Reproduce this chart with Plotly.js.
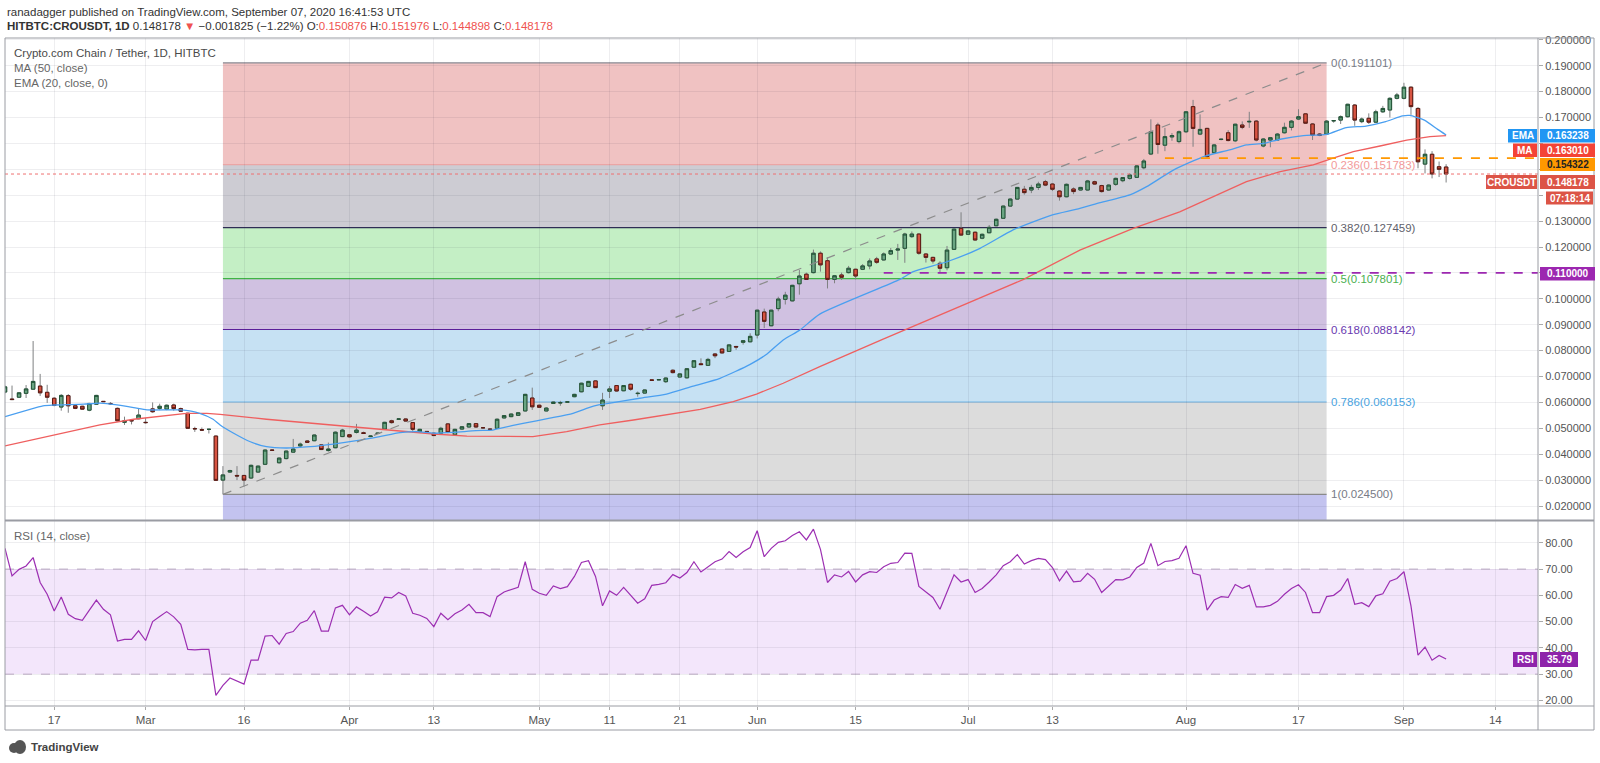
<!DOCTYPE html>
<html><head><meta charset="utf-8">
<script src="https://cdn.plot.ly/plotly-3.0.1.min.js"></script>
<style>html,body{margin:0;padding:0;background:#fff;}#chart{width:1600px;height:763px;}</style>
</head><body><div id="chart"></div>
<script>
// ---------- data ----------
const openP = [0.0640,0.0613,0.0620,0.0635,0.0651,0.0663,0.0639,0.0616,0.0582,0.0626,
0.0587,0.0585,0.0570,0.0593,0.0604,0.0596,0.0577,0.0523,0.0530,0.0537,
0.0523,0.0575,0.0577,0.0574,0.0590,0.0576,0.0558,0.0499,0.0495,0.0496,
0.0470,0.0300,0.0331,0.0318,0.0318,0.0308,0.0331,0.0361,0.0416,0.0367,
0.0383,0.0408,0.0432,0.0451,0.0452,0.0436,0.0414,0.0425,0.0468,0.0475,
0.0484,0.0483,0.0468,0.0480,0.0497,0.0529,0.0535,0.0536,0.0522,0.0487,
0.0488,0.0481,0.0481,0.0517,0.0475,0.0497,0.0505,0.0518,0.0502,0.0497,
0.0500,0.0540,0.0545,0.0550,0.0567,0.0617,0.0589,0.0567,0.0596,0.0598,
0.0601,0.0622,0.0641,0.0662,0.0683,0.0587,0.0643,0.0665,0.0645,0.0670,
0.0634,0.0636,0.0687,0.0687,0.0680,0.0724,0.0698,0.0695,0.0736,0.0749,
0.0743,0.0787,0.0806,0.0797,0.0816,0.0832,0.0834,0.0860,0.0949,0.0896,
0.0962,0.0998,0.0992,0.1058,0.1095,0.1101,0.1176,0.1147,0.1075,0.1092,
0.1101,0.1114,0.1114,0.1127,0.1154,0.1150,0.1173,0.1188,0.1195,0.1240,
0.1250,0.1173,0.1160,0.1137,0.1120,0.1191,0.1272,0.1249,0.1257,0.1234,
0.1255,0.1282,0.1311,0.1358,0.1385,0.1423,0.1420,0.1430,0.1452,0.1443,
0.1416,0.1394,0.1424,0.1420,0.1420,0.1452,0.1437,0.1420,0.1442,0.1456,
0.1465,0.1469,0.1506,0.1559,0.1671,0.1593,0.1625,0.1607,0.1645,0.1742,
0.1636,0.1658,0.1564,0.1615,0.1641,0.1610,0.1671,0.1683,0.1686,0.1590,
0.1613,0.1613,0.1641,0.1662,0.1694,0.1714,0.1675,0.1636,0.1636,0.1687,
0.1690,0.1703,0.1748,0.1684,0.1697,0.1682,0.1722,0.1729,0.1774,0.1774,
0.1817,0.1735,0.1520,0.1558,0.1510,0.150876];
const highP = [0.0665,0.0665,0.0640,0.0667,0.0837,0.0710,0.0668,0.0620,0.0632,0.0632,
0.0592,0.0587,0.0598,0.0629,0.0605,0.0601,0.0580,0.0545,0.0532,0.0578,
0.0540,0.0600,0.0595,0.0592,0.0595,0.0580,0.0560,0.0506,0.0503,0.0497,
0.0472,0.0354,0.0340,0.0354,0.0320,0.0360,0.0356,0.0418,0.0418,0.0387,
0.0414,0.0459,0.0445,0.0454,0.0476,0.0438,0.0445,0.0488,0.0498,0.0478,
0.0517,0.0487,0.0472,0.0483,0.0525,0.0533,0.0537,0.0538,0.0524,0.0498,
0.0489,0.0483,0.0506,0.0520,0.0498,0.0508,0.0520,0.0520,0.0503,0.0498,
0.0538,0.0551,0.0557,0.0563,0.0633,0.0657,0.0592,0.0582,0.0603,0.0606,
0.0603,0.0633,0.0676,0.0683,0.0685,0.0637,0.0663,0.0667,0.0667,0.0672,
0.0642,0.0650,0.0688,0.0690,0.0697,0.0728,0.0712,0.0732,0.0763,0.0770,
0.0772,0.0790,0.0808,0.0824,0.0818,0.0840,0.0867,0.0958,0.0962,0.0958,
0.1008,0.1027,0.1054,0.1111,0.1101,0.1190,0.1183,0.1160,0.1092,0.1101,
0.1127,0.1116,0.1134,0.1156,0.1162,0.1179,0.1196,0.1212,0.1255,0.1260,
0.1253,0.1176,0.1162,0.1145,0.1204,0.1271,0.1334,0.1265,0.1260,0.1252,
0.1285,0.1310,0.1360,0.1388,0.1432,0.1436,0.1440,0.1452,0.1459,0.1446,
0.1419,0.1445,0.1430,0.1432,0.1459,0.1456,0.1440,0.1442,0.1468,0.1470,
0.1485,0.1516,0.1540,0.1693,0.1680,0.1660,0.1640,0.1650,0.1725,0.1768,
0.1712,0.1660,0.1598,0.1618,0.1651,0.1676,0.1685,0.1722,0.1690,0.1620,
0.1625,0.1640,0.1680,0.1690,0.1732,0.1716,0.1678,0.1640,0.1690,0.1690,
0.1708,0.1753,0.1752,0.1700,0.1716,0.1730,0.1745,0.1778,0.1795,0.1834,
0.1820,0.1740,0.1577,0.1570,0.1530,0.151976];
const lowP = [0.0635,0.0609,0.0618,0.0617,0.0650,0.0625,0.0598,0.0585,0.0568,0.0560,
0.0574,0.0572,0.0566,0.0591,0.0602,0.0590,0.0527,0.0513,0.0515,0.0535,
0.0518,0.0560,0.0570,0.0570,0.0568,0.0563,0.0498,0.0486,0.0490,0.0480,
0.0298,0.0245,0.0328,0.0300,0.0275,0.0305,0.0328,0.0358,0.0413,0.0364,
0.0380,0.0405,0.0425,0.0444,0.0450,0.0416,0.0410,0.0423,0.0466,0.0464,
0.0480,0.0478,0.0466,0.0479,0.0495,0.0518,0.0534,0.0526,0.0483,0.0485,
0.0486,0.0470,0.0478,0.0481,0.0472,0.0495,0.0503,0.0503,0.0501,0.0495,
0.0498,0.0538,0.0543,0.0548,0.0565,0.0571,0.0579,0.0565,0.0594,0.0587,
0.0600,0.0620,0.0639,0.0660,0.0655,0.0571,0.0617,0.0642,0.0643,0.0645,
0.0622,0.0634,0.0684,0.0686,0.0675,0.0712,0.0696,0.0692,0.0734,0.0744,
0.0741,0.0771,0.0789,0.0795,0.0803,0.0823,0.0832,0.0847,0.0887,0.0894,
0.0952,0.0978,0.0990,0.1016,0.1074,0.1098,0.1105,0.1040,0.1060,0.1073,
0.1098,0.1075,0.1111,0.1114,0.1135,0.1148,0.1169,0.1150,0.1139,0.1235,
0.1170,0.1140,0.1136,0.1099,0.1110,0.1189,0.1244,0.1246,0.1225,0.1230,
0.1253,0.1280,0.1309,0.1356,0.1383,0.1402,0.1408,0.1420,0.1435,0.1416,
0.1379,0.1392,0.1404,0.1418,0.1418,0.1440,0.1410,0.1417,0.1436,0.1450,
0.1460,0.1467,0.1500,0.1555,0.1560,0.1570,0.1610,0.1600,0.1640,0.1587,
0.1632,0.1542,0.1560,0.1612,0.1608,0.1605,0.1655,0.1660,0.1608,0.1585,
0.1585,0.1610,0.1638,0.1650,0.1690,0.1675,0.1613,0.1628,0.1632,0.1680,
0.1675,0.1700,0.1668,0.1678,0.1675,0.1680,0.1718,0.1700,0.1770,0.1770,
0.1710,0.1504,0.1484,0.1465,0.1470,0.144898];
const closeP = [0.0660,0.0611,0.0637,0.0652,0.0681,0.0637,0.0620,0.0588,0.0627,0.0587,
0.0577,0.0574,0.0596,0.0627,0.0603,0.0595,0.0529,0.0529,0.0529,0.0551,
0.0522,0.0564,0.0585,0.0589,0.0576,0.0566,0.0500,0.0498,0.0493,0.0496,
0.0299,0.0320,0.0337,0.0316,0.0300,0.0357,0.0354,0.0416,0.0415,0.0385,
0.0412,0.0420,0.0439,0.0446,0.0474,0.0418,0.0420,0.0485,0.0493,0.0467,
0.0493,0.0480,0.0470,0.0481,0.0523,0.0522,0.0536,0.0528,0.0496,0.0496,
0.0487,0.0472,0.0500,0.0484,0.0496,0.0506,0.0518,0.0505,0.0502,0.0496,
0.0535,0.0549,0.0555,0.0560,0.0631,0.0583,0.0581,0.0578,0.0601,0.0599,
0.0602,0.0631,0.0674,0.0681,0.0657,0.0609,0.0652,0.0644,0.0665,0.0651,
0.0635,0.0648,0.0685,0.0688,0.0694,0.0715,0.0710,0.0730,0.0761,0.0746,
0.0766,0.0780,0.0791,0.0822,0.0814,0.0838,0.0855,0.0956,0.0913,0.0956,
0.0999,0.1014,0.1052,0.1088,0.1075,0.1176,0.1131,0.1075,0.1089,0.1083,
0.1118,0.1088,0.1127,0.1146,0.1141,0.1173,0.1186,0.1192,0.1250,0.1250,
0.1176,0.1160,0.1146,0.1118,0.1188,0.1269,0.1246,0.1262,0.1227,0.1249,
0.1276,0.1307,0.1358,0.1385,0.1430,0.1410,0.1430,0.1443,0.1439,0.1423,
0.1394,0.1442,0.1414,0.1430,0.1455,0.1443,0.1414,0.1439,0.1465,0.1468,
0.1478,0.1513,0.1532,0.1645,0.1596,0.1626,0.1630,0.1645,0.1722,0.1658,
0.1654,0.1549,0.1594,0.1616,0.1611,0.1674,0.1662,0.1685,0.1613,0.1617,
0.1622,0.1636,0.1662,0.1686,0.1703,0.1678,0.1632,0.1631,0.1686,0.1688,
0.1703,0.1751,0.1690,0.1694,0.1682,0.1722,0.1735,0.1774,0.1787,0.1817,
0.1742,0.1529,0.1558,0.1482,0.1500,0.148178];
const rsiVals = [77.9,67.4,69.9,71.2,74.4,64.9,60.4,54.0,59.4,52.8,
51.1,50.5,54.4,58.2,54.7,52.6,42.6,43.2,43.2,46.5,
42.8,50.0,51.9,53.8,51.8,49.0,39.4,39.2,39.4,39.4,
21.9,25.7,28.5,27.4,26.2,35.3,35.3,44.5,44.7,41.4,
45.5,46.2,49.4,50.5,54.2,46.4,46.4,55.2,56.2,52.6,
55.6,53.9,52.1,53.7,59.3,59.0,61.1,59.8,53.2,52.4,
51.2,48.1,53.2,50.7,53.0,54.4,56.6,53.4,53.4,51.9,
59.5,61.3,62.3,63.1,72.8,62.3,60.8,60.0,63.6,62.6,
63.3,67.2,72.5,73.2,67.2,56.0,61.7,60.0,63.0,60.0,
57.0,58.7,63.8,64.2,64.8,67.9,66.6,68.7,72.8,68.9,
71.0,72.8,73.8,76.7,74.4,76.6,78.2,84.6,74.7,77.9,
80.2,80.8,82.8,84.2,81.1,85.2,77.5,64.9,67.8,67.0,
69.1,65.1,67.8,69.0,68.7,70.9,72.2,72.5,76.1,76.0,
63.4,61.3,59.2,54.7,61.1,67.8,65.1,66.0,61.1,62.6,
65.1,67.8,71.3,72.8,75.5,71.9,73.2,74.1,73.6,70.6,
65.5,69.2,65.1,65.4,68.4,66.1,61.1,63.4,66.0,65.9,
67.0,70.6,72.3,79.8,71.3,72.9,73.2,74.1,78.9,68.4,
67.7,54.4,58.2,59.5,59.2,64.1,62.7,63.8,55.6,55.6,
56.2,57.7,60.4,62.6,64.0,61.1,53.4,53.4,59.5,60.0,
62.0,66.4,56.6,57.2,55.7,59.8,60.6,65.4,66.4,69.0,
56.0,37.2,40.3,35.3,37.1,35.79];
const maIdx  = [0,7,13.5,18.3,23,25.8,28.7,30.6,37.2,46.7,54.3,61,65.7,70.4,75.1,79.9,84.6,89.4,94.1,98.9,103.6,106.9,110.7,115.9,125,135,144.9,152.9,160.5,167.1,171.9,176.6,181.4,186.1,188.5,191.8,195.6,199.4,202.7,205];
const maVals = [0.0432,0.0473,0.0513,0.0535,0.0551,0.0558,0.0558,0.0554,0.0535,0.0513,0.0493,0.0478,0.0470,0.0468,0.0468,0.0487,0.0513,0.0532,0.0551,0.0573,0.0603,0.0632,0.0674,0.0738,0.0845,0.0960,0.1075,0.1188,0.1272,0.1336,0.1394,0.1452,0.1491,0.1517,0.1539,0.1568,0.1590,0.1613,0.1626,0.163010];
const emaIdx  = [0,5.4,7,11.2,13.5,15,18.3,20.2,25,27.7,29.6,30.6,32.4,34.9,37.2,40,43.4,46.7,50,53.3,56.2,58.6,61,63.8,67,69.4,70.4,73.7,77.5,80.8,83.7,86.5,90.3,94.1,97.9,101.7,106,108.4,110.7,113.1,115.9,127.3,129.2,134,138.7,143.4,147.2,149,152.9,155.8,160,162.4,166.2,170.7,174.2,176.6,179,181.4,184.7,188,190.8,193.6,196.4,198.8,199.8,201.9,203.8,205];
const emaVals = [0.0545,0.0587,0.0590,0.0593,0.0597,0.0593,0.0580,0.0571,0.0571,0.0558,0.0535,0.0513,0.0483,0.0448,0.0429,0.0424,0.0429,0.0439,0.0452,0.0468,0.0483,0.0487,0.0481,0.0484,0.0491,0.0493,0.0500,0.0519,0.0539,0.0558,0.0586,0.0599,0.0616,0.0632,0.0663,0.0693,0.0747,0.0787,0.0841,0.0880,0.0941,0.1075,0.1105,0.1143,0.1195,0.1266,0.1307,0.1324,0.1349,0.1371,0.1401,0.1433,0.1497,0.1551,0.1575,0.1594,0.1600,0.1616,0.1630,0.1635,0.1661,0.1667,0.1684,0.1706,0.1708,0.1690,0.1654,0.163238];
const tickIdx  = [7,20,34,49,61,76,86,96,107,121,137,149,168,184,199,212];
const tickText = ['17','Mar','16','Apr','13','May','11','21','Jun','15','Jul','13','Aug','17','Sep','14'];
const priceTicks = [0.02,0.03,0.04,0.05,0.06,0.07,0.08,0.09,0.10,0.11,0.12,0.13,0.14,0.15,0.16,0.17,0.18,0.19,0.20];
const priceTicksHidden = [0.11,0.14,0.15,0.16];   // covered by the price label boxes in the reference
const rsiTicks = [20,30,40,50,60,70,80];
const fibRatios = ['0','0.236','0.382','0.5','0.618','0.786','1'];
const fibPrices = [0.191101,0.151783,0.127459,0.107801,0.088142,0.060153,0.024500];
const fibStartIdx = 31, fibEndIdx = 188;
const supportPrice = 0.154322, supportStartIdx = 165;
const levelPrice = 0.110000, levelStartIdx = 125;
const lastClose = 0.148178, lastEma = 0.163238, lastMa = 0.163010, lastRsi = 35.79;

// ---------- geometry / style ----------
const L = 5, R = 1538, T = 38, B = 706;
const xp = px => (px - L) / (R - L);
const yp = py => (B - py) / (B - T);
const FONT = 'Liberation Sans, Arial, sans-serif';
const X_MAX = 218.07, Y_MIN = 0.014595, Y_MAX = 0.200695;
const idx = openP.map((_, i) => i);
const bodyHi = openP.map((o, i) => Math.max(o, closeP[i]));
const bodyLo = openP.map((o, i) => Math.min(o, closeP[i]));
const priceTickText = priceTicks.map(v => priceTicksHidden.some(h => Math.abs(h - v) < 1e-9) ? '' : v.toFixed(6));

const traces = [
  {type:'scatter', mode:'lines', x:maIdx, y:maVals, line:{color:'#ef5f5f', width:1.3}, hoverinfo:'skip', xaxis:'x', yaxis:'y'},
  {type:'scatter', mode:'lines', x:emaIdx, y:emaVals, line:{color:'#4a9ff0', width:1.3, shape:'spline', smoothing:0.6}, hoverinfo:'skip', xaxis:'x', yaxis:'y'},
  {type:'candlestick', x:idx, open:openP, high:highP, low:lowP, close:closeP, xaxis:'x', yaxis:'y',
   increasing:{line:{color:'#7f8082', width:1}, fillcolor:'#6ba583'},
   decreasing:{line:{color:'#7f8082', width:1}, fillcolor:'#d75442'}, whiskerwidth:0, hoverinfo:'skip'},
  {type:'candlestick', x:idx, open:openP, high:bodyHi, low:bodyLo, close:closeP, xaxis:'x', yaxis:'y',
   increasing:{line:{color:'#225437', width:1}, fillcolor:'#6ba583'},
   decreasing:{line:{color:'#5b1a13', width:1}, fillcolor:'#d75442'}, whiskerwidth:0, hoverinfo:'skip'},
  {type:'scatter', mode:'lines', x:idx, y:rsiVals, line:{color:'#9c2fb2', width:1.2}, hoverinfo:'skip', xaxis:'x', yaxis:'y2'}
];

const shapes = [];
const fibFill = ['#f0c2c2','#cdccd3','#c4efc5','#d0c1e1','#c6e1f3','#dcdcdc'];
const fibLine = ['#8a8d96','#eba5a5','#2f2d55','#3fb445','#5b1f99','#6fb3e3','#8a8a8a'];
const fibText = ['#787b86','#f29a9a','#5f5f6b','#4caf50','#6a3ab0','#4aa3e0','#787b86'];
for (let k = 0; k < fibFill.length; k++) {
  shapes.push({type:'rect', xref:'x', yref:'y', x0:fibStartIdx, x1:fibEndIdx, y0:fibPrices[k+1], y1:fibPrices[k], fillcolor:fibFill[k], line:{width:0}, layer:'below'});
}
shapes.push({type:'rect', xref:'x', yref:'y', x0:fibStartIdx, x1:fibEndIdx, y0:Y_MIN, y1:fibPrices[6], fillcolor:'#c3c3ef', line:{width:0}, layer:'below'});
for (let k = 0; k < fibPrices.length; k++) {
  shapes.push({type:'line', xref:'x', yref:'y', x0:fibStartIdx, x1:fibEndIdx, y0:fibPrices[k], y1:fibPrices[k], line:{color:fibLine[k], width:1.2}, layer:'below'});
}
// RSI band
shapes.push({type:'rect', xref:'x', yref:'y2', x0:0, x1:X_MAX, y0:30, y1:70, fillcolor:'#f3e6fb', line:{width:0}, layer:'below'});
[30,70].forEach(v => shapes.push({type:'line', xref:'x', yref:'y2', x0:0, x1:X_MAX, y0:v, y1:v, line:{color:'#bfaec8', width:1, dash:'dash'}, layer:'below'}));
// last price dotted
shapes.push({type:'line', xref:'x', yref:'y', x0:0, x1:X_MAX, y0:lastClose, y1:lastClose, line:{color:'#ef7070', width:1, dash:'dot'}, layer:'above'});
// trend line of fib
shapes.push({type:'line', xref:'x', yref:'y', x0:fibStartIdx, y0:fibPrices[6], x1:fibEndIdx, y1:fibPrices[0], line:{color:'#8c8c8c', width:1.2, dash:'dash'}, layer:'above'});
// horizontal dashed levels
shapes.push({type:'line', xref:'x', yref:'y', x0:supportStartIdx, x1:X_MAX, y0:supportPrice, y1:supportPrice, line:{color:'#ff9800', width:1.6, dash:'dash'}, layer:'above'});
shapes.push({type:'line', xref:'x', yref:'y', x0:levelStartIdx, x1:X_MAX, y0:levelPrice, y1:levelPrice, line:{color:'#9c27b0', width:1.6, dash:'dash'}, layer:'above'});
// frame
const frameCol = '#9a9ca3';
shapes.push({type:'rect', xref:'paper', yref:'paper', x0:xp(5), x1:xp(1594), y0:yp(730), y1:yp(38), line:{color:frameCol, width:1}, fillcolor:'rgba(0,0,0,0)', layer:'above'});
shapes.push({type:'line', xref:'paper', yref:'paper', x0:xp(1538), x1:xp(1538), y0:yp(730), y1:yp(38), line:{color:frameCol, width:1}, layer:'above'});
shapes.push({type:'line', xref:'paper', yref:'paper', x0:xp(5), x1:xp(1594), y0:yp(520.5), y1:yp(520.5), line:{color:frameCol, width:2}, layer:'above'});
shapes.push({type:'line', xref:'paper', yref:'paper', x0:xp(5), x1:xp(1594), y0:yp(706), y1:yp(706), line:{color:frameCol, width:1}, layer:'above'});

// right-side label boxes [text, x0, x1, y0, y1, bg, fg]
const boxes = [
  ['EMA', 1508, 1537, 129, 142.5, '#2196f3', '#fff'],
  [lastEma.toFixed(6), 1540, 1595, 129, 142.5, '#2196f3', '#fff'],
  ['MA', 1513, 1537, 143.5, 157, '#f44336', '#fff'],
  [lastMa.toFixed(6), 1540, 1595, 143.5, 157, '#f44336', '#fff'],
  [supportPrice.toFixed(6), 1540, 1595, 158, 171, '#ff9800', '#222'],
  ['CROUSDT', 1486, 1537, 175, 189, '#dc5446', '#fff'],
  [lastClose.toFixed(6), 1540, 1595, 175, 189, '#dc5446', '#fff'],
  ['07:18:14', 1546, 1593, 191.5, 204.5, '#dc5446', '#fff'],
  [levelPrice.toFixed(6), 1540, 1595, 267, 280.5, '#9c27b0', '#fff'],
  ['RSI', 1513, 1537, 652, 667, '#8e24aa', '#fff'],
  [lastRsi.toFixed(2), 1540, 1578, 652, 667, '#8e24aa', '#fff']
];
const annotations = [];
boxes.forEach(b => {
  shapes.push({type:'rect', xref:'paper', yref:'paper', x0:xp(b[1]), x1:xp(b[2]), y0:yp(b[4]), y1:yp(b[3]), fillcolor:b[5], line:{width:0}, layer:'above'});
  annotations.push({xref:'paper', yref:'paper', x:xp((b[1]+b[2])/2), y:yp((b[3]+b[4])/2), text:'<b>'+b[0]+'</b>', showarrow:false, xanchor:'center', yanchor:'middle', borderpad:0, font:{family:FONT, size:10, color:b[6]}});
});

// fib labels
for (let k = 0; k < fibPrices.length; k++) {
  annotations.push({xref:'x', yref:'y', x:fibEndIdx + 0.3, y:fibPrices[k], text:fibRatios[k] + '(' + fibPrices[k].toFixed(6) + ')', showarrow:false, xanchor:'left', yanchor:'middle', font:{family:FONT, size:11.5, color:fibText[k]}});
}
// header and legends
const txt = (px, py, text, size, color) => annotations.push({xref:'paper', yref:'paper', x:xp(px), y:yp(py), text, showarrow:false, xanchor:'left', yanchor:'middle', font:{family:FONT, size, color}});
txt(5, 11.7, 'ranadagger published on TradingView.com, September 07, 2020 16:41:53 UTC', 11.5, '#333');
const red = s => '<span style="color:#ef5350">' + s + '</span>';
txt(5, 26, '<b>HITBTC:CROUSDT, 1D</b> 0.148178 ' + red('▼') + ' −0.001825 (−1.22%) O:' + red('0.150876') + ' H:' + red('0.151976') + ' L:' + red('0.144898') + ' C:' + red('0.148178'), 11.5, '#333');
txt(12, 53, 'Crypto.com Chain / Tether, 1D, HITBTC', 11.5, '#4a4a4a');
txt(12, 68.5, 'MA (50, close)', 11.5, '#666');
txt(12, 83, 'EMA (20, close, 0)', 11.5, '#666');
txt(12, 535.5, 'RSI (14, close)', 11.5, '#666');
txt(29, 747, '<b>TradingView</b>', 11.5, '#444');
// small logo
shapes.push({type:'circle', xref:'paper', yref:'paper', x0:xp(9), x1:xp(19), y0:yp(753), y1:yp(743), fillcolor:'#555', line:{width:0}});
shapes.push({type:'circle', xref:'paper', yref:'paper', x0:xp(14), x1:xp(26), y0:yp(754), y1:yp(740), fillcolor:'#555', line:{width:0}});

const gridCol = 'rgba(40,44,60,0.08)';
const layout = {
  width:1600, height:763, margin:{l:L, r:1600-R, t:T, b:763-B},
  paper_bgcolor:'#ffffff', plot_bgcolor:'#ffffff', showlegend:false, dragmode:false,
  font:{family:FONT, size:11, color:'#555'},
  xaxis:{domain:[0,1], anchor:'y2', range:[0, X_MAX], tickmode:'array', tickvals:tickIdx, ticktext:tickText,
         showgrid:true, gridcolor:gridCol, zeroline:false, showline:false, ticks:'outside', ticklen:3, tickcolor:'#aaa',
         tickfont:{family:FONT, size:11.5, color:'#555'}, rangeslider:{visible:false}, fixedrange:true, automargin:false},
  yaxis:{domain:[yp(520), 1], anchor:'x', side:'right', range:[Y_MIN, Y_MAX], tickmode:'array', tickvals:priceTicks, ticktext:priceTickText,
         showgrid:true, gridcolor:gridCol, zeroline:false, showline:false, ticks:'outside', ticklen:4, tickcolor:'#aaa',
         tickfont:{family:FONT, size:11, color:'#555'}, fixedrange:true, automargin:false},
  yaxis2:{domain:[0, yp(520)], anchor:'x', side:'right', range:[17.86, 88.69], tickmode:'array', tickvals:rsiTicks, tickformat:'.2f',
         showgrid:true, gridcolor:gridCol, zeroline:false, showline:false, ticks:'outside', ticklen:4, tickcolor:'#aaa',
         tickfont:{family:FONT, size:11, color:'#555'}, fixedrange:true, automargin:false},
  shapes, annotations
};
Plotly.newPlot('chart', traces, layout, {displayModeBar:false, staticPlot:true});
</script></body></html>
